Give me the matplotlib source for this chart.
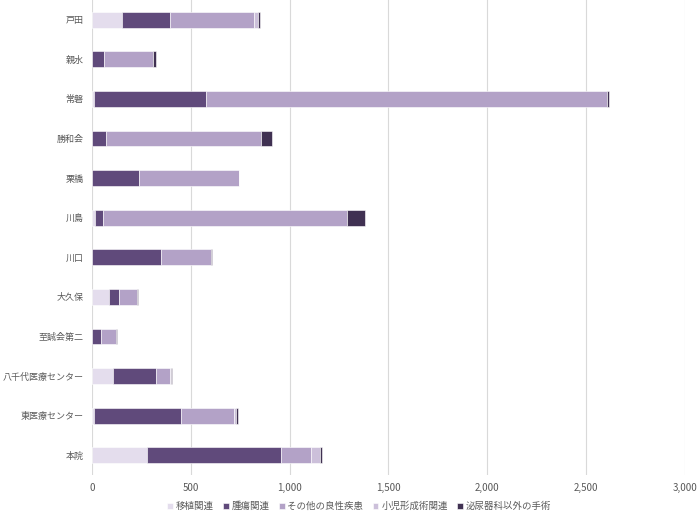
import matplotlib.pyplot as plt
from matplotlib.ticker import FuncFormatter
import numpy as np

plt.rcParams['font.family'] = ['Noto Sans CJK JP', 'DejaVu Sans']

# Categories (top to bottom)
hospitals = ["戸田", "親水", "常磐", "勝和会", "栗橋", "川島", "川口", "大久保",
             "至誠会第二", "八千代医療センター", "東医療センター", "本院"]

# Series values
transplant = [150, 0, 12, 0, 0, 15, 0, 86, 0, 108, 11, 276]        # 移植関連
tumor = [244, 60, 564, 71, 236, 39, 347, 49, 44, 217, 440, 680]    # 腫瘍関連
benign = [426, 250, 2030, 784, 508, 1234, 254, 91, 77, 71, 266, 154]  # その他の良性疾患
pediatric = [20, 0, 2, 0, 0, 0, 3, 3, 0, 2, 14, 45]                 # 小児形成術関連
non_uro = [10, 12, 6, 57, 0, 91, 3, 2, 7, 6, 8, 10]                 # 泌尿器科以外の手術

series_names = ["移植関連", "腫瘍関連", "その他の良性疾患", "小児形成術関連", "泌尿器科以外の手術"]
colors = ["#e4dded", "#604a7b", "#b3a2c7", "#ccc0da", "#403152"]

fig = plt.figure(figsize=(7, 5.17), dpi=100)
ax = fig.add_axes([0.1314, 0.0812, 0.847, 0.919])

y = np.arange(len(hospitals))
left = np.zeros(len(hospitals))
for name, vals, c in zip(series_names, [transplant, tumor, benign, pediatric, non_uro], colors):
    ax.barh(y, vals, left=left, height=0.4, color=c, label=name,
            edgecolor="white", linewidth=0.4, zorder=3)
    left += np.array(vals)

ax.set_yticks(y)
ax.set_yticklabels(hospitals)
ax.set_ylim(len(hospitals) - 0.5, -0.5)
ax.set_xlim(0, 3000)
ax.set_xticks(range(0, 3001, 500))
ax.xaxis.set_major_formatter(FuncFormatter(lambda v, p: f"{int(v):,}"))

ax.grid(axis="x", color="#d9d9d9", linewidth=0.8, zorder=0)
for s in ax.spines.values():
    s.set_visible(False)
ax.tick_params(length=0, labelsize=7, labelcolor="#595959")
ax.tick_params(axis="y", pad=6, labelsize=6.5)
ax.tick_params(axis="x", pad=6)

fig.legend(loc="lower center", bbox_to_anchor=(0.513, -0.005), ncol=5, frameon=False,
           fontsize=6.8, handlelength=0.6, handleheight=0.6, handletextpad=0.3,
           columnspacing=1.0, labelcolor="#595959")

fig.savefig("out.png", dpi=100)
